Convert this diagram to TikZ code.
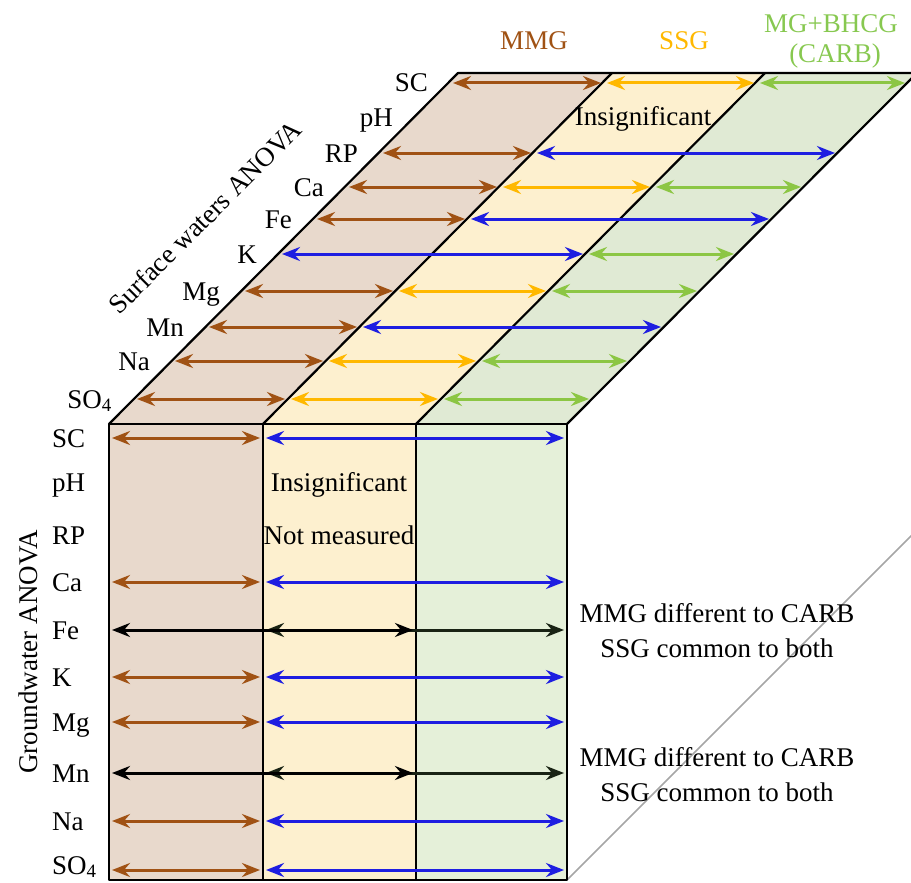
\documentclass[tikz,border=0pt]{standalone}
\usepackage{fontspec}
\setmainfont{Liberation Serif}
\usetikzlibrary{arrows.meta}

\definecolor{mmgfill}{RGB}{232,217,204}
\definecolor{ssgfill}{RGB}{253,240,207}
\definecolor{carbfill}{RGB}{229,240,217}
\definecolor{mmgline}{RGB}{160,82,20}
\definecolor{ssgline}{RGB}{255,184,0}
\definecolor{carbline}{RGB}{140,198,68}
\definecolor{bothline}{RGB}{30,30,225}
\definecolor{carbtext}{RGB}{135,200,80}
\definecolor{darkline}{RGB}{25,35,20}

\tikzset{
  sig/.style={draw=#1, line width=3pt,
    {Stealth[length=18pt,width=14pt,inset=6pt]}-{Stealth[length=18pt,width=14pt,inset=6pt]}},
  lab/.style={font=\fontsize{27}{31}\selectfont, inner sep=0pt},
  edge/.style={draw=black, line width=2.2pt, line join=round}
}

% arrow on the top face: colour, row y, from column offset, to column offset
\newcommand\toprow[4]{\draw[sig=#1] ({533-#2+#3+3},#2) -- ({533-#2+#4-3},#2);}

\begin{document}
\begin{tikzpicture}[x=1pt,y=-1pt]
    \useasboundingbox (0,0) rectangle (911,883);
    % hidden edge
    \draw[gray!70, line width=1.5pt] (567,880) -- (918,529);
    % faces
    \fill[mmgfill] (109,424) rectangle (263,880);
    \fill[ssgfill] (263,424) rectangle (416,880);
    \fill[carbfill] (416,424) rectangle (567,880);
    \fill[mmgfill] (109,424) -- (458,73) -- (612,73) -- (263,424) -- cycle;
    \fill[ssgfill] (263,424) -- (612,73) -- (765,73) -- (416,424) -- cycle;
    \fill[carbfill!95!gray] (416,424) -- (765,73) -- (917,73) -- (567,424) -- cycle;
    \draw[edge] (109,424) rectangle (567,880);
    \draw[edge] (263,424) -- (263,880);
    \draw[edge] (416,424) -- (416,880);
    \draw[edge] (109,424) -- (458,73) -- (917,73) -- (567,424);
    \draw[edge] (263,424) -- (612,73);
    \draw[edge] (416,424) -- (765,73);

    % headers
    \node[lab, anchor=base, text=mmgline] (h-mmg) at (534,50) {MMG};
    \node[lab, anchor=base, text=ssgline] (h-ssg) at (684,50) {SSG};
    \node[lab, anchor=base, text=carbtext] (h-carb) at (831,33) {MG+BHCG};
    \node[lab, anchor=base, text=carbtext] (h-carb2) at (835,63) {(CARB)};

    % surface waters (top face)
    \node[lab, rotate=45] (sw-title) at (205,217) {Surface waters ANOVA};
    \foreach \name/\y in {SC/83, pH/118, RP/153, Ca/187, Fe/219, K/254, Mg/291, Mn/327, Na/361, SO\textsubscript{4}/399}
        \node[lab, anchor=base east] (sw-\y) at ({533-\y-22},\y+9) {\name};
    \foreach \y in {83,187,291,361,399} {
        \toprow{mmgline}{\y}{0}{154}
        \toprow{ssgline}{\y}{154}{307}
        \toprow{carbline}{\y}{307}{458}
    }
    \foreach \y in {153,219,327} {
        \toprow{mmgline}{\y}{0}{154}
        \toprow{bothline}{\y}{154}{458}
    }
    \toprow{bothline}{254}{0}{307}
    \toprow{carbline}{254}{307}{458}
    \node[lab, anchor=base] (sw-insig) at (643,125) {Insignificant};

    % groundwater (front face)
    \node[lab, rotate=90] (gw-title) at (28,652) {Groundwater ANOVA};
    \foreach \name/\y in {SC/438, pH/482, RP/535, Ca/582, Fe/630, K/677, Mg/722, Mn/773, Na/821, SO\textsubscript{4}/865}
        \node[lab, anchor=base west] (gw-\y) at (52,\y+9) {\name};
    \foreach \y in {438,582,677,722,821,870} {
        \draw[sig=mmgline] (112,\y) -- (260,\y);
        \draw[sig=bothline] (266,\y) -- (564,\y);
    }
    \foreach \y in {630,773} {
        \draw[sig=darkline] (266,\y) -- (564,\y);
        \draw[sig=black] (112,\y) -- (413,\y);
    }
    \node[lab, anchor=base] (gw-insig) at (339,491) {Insignificant};
    \node[lab, anchor=base] (gw-notm) at (339,544) {Not measured};

    % notes
    \node[lab, align=center] (note-fe) at (717,631) {MMG different to CARB\\[4pt]SSG common to both};
    \node[lab, align=center] (note-mn) at (717,775) {MMG different to CARB\\[4pt]SSG common to both};
\end{tikzpicture}
\end{document}
